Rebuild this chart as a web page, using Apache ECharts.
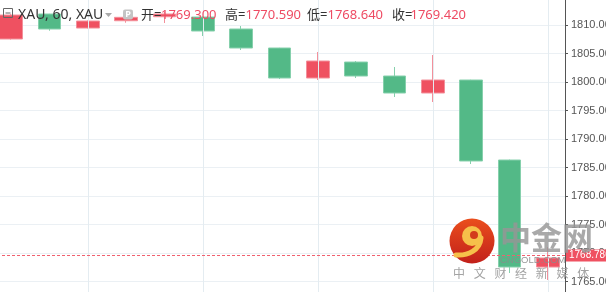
<!DOCTYPE html>
<html>
<head>
<meta charset="utf-8">
<script src="https://cdn.jsdelivr.net/npm/echarts@6/dist/echarts.min.js"></script>
<style>
  html, body { margin: 0; padding: 0; background: #fff; }
  #chart { width: 606px; height: 292px; }
</style>
</head>
<body>
<div id="chart"></div>
<script>
// ---- data (XAU, 60-minute candles) ----
const categories = ['1', '2', '3', '4', '5', '6', '7', '8', '9', '10', '11', '12', '13', '14', '15'];
const openV  = [1807.55, 1811.93, 1809.47, 1810.75, 1811.45, 1811.40, 1809.30, 1805.97, 1800.71, 1803.51, 1801.06, 1798.08, 1800.36, 1786.33, 1767.57];
const closeV = [1811.75, 1809.30, 1810.70, 1811.35, 1811.93, 1808.95, 1805.97, 1800.71, 1803.69, 1801.06, 1798.08, 1800.36, 1786.16, 1767.57, 1769.15];
const lowV   = [1807.45, 1809.00, 1809.40, 1810.40, 1810.35, 1808.07, 1805.62, 1800.53, 1800.36, 1800.71, 1797.38, 1796.50, 1785.63, 1766.52, 1765.30];
const highV  = [1811.95, 1811.95, 1810.80, 1811.40, 1812.28, 1811.50, 1809.82, 1806.00, 1805.27, 1803.69, 1802.64, 1804.74, 1800.40, 1786.40, 1771.08];
const gridColumns = ['3', '6', '9', '12', '15'];
const yTicks = { min: 1760, max: 1815, step: 5 };
const lastPriceLine = 1769.6;
const lastPriceLabel = '1768.780';
const headerSymbol = 'XAU, 60, XAU';
const headerFields = [
  { key: '开=', value: '1769.300' },
  { key: '高=', value: '1770.590' },
  { key: '低=', value: '1768.640' },
  { key: '收=', value: '1769.420' }
];
const watermarkTitle = '中金网';
const watermarkSite = 'CNGOLD.COM';
const watermarkSlogan = ['中', '文', '财', '经', '新', '媒', '体'];

// ---- chart ----
const candleData = categories.map((c, i) => [openV[i], closeV[i], lowV[i], highV[i]]);
const UP = '#ef5161', DOWN = '#53b987';
const FONT = '"Noto Sans", "Noto Sans CJK SC", sans-serif';

const keyX = [141, 225, 307, 392];
const valX = [161, 245.5, 327.5, 410.5];
const headerGraphics = [];
headerFields.forEach((f, i) => {
  headerGraphics.push({ type: 'text', z: 50, style: { x: keyX[i], y: 15, text: f.key, font: '13px ' + FONT, fill: '#333', verticalAlign: 'middle' } });
  headerGraphics.push({ type: 'text', z: 50, style: { x: valX[i], y: 15, text: f.value, font: '13px ' + FONT, fill: '#ee4b63', verticalAlign: 'middle' } });
});

const sloganGraphics = watermarkSlogan.map((ch, i) => ({
  type: 'text', z: 60,
  style: { x: 453 + i * 20.7, y: 273, text: ch, font: '12px "Noto Sans CJK SC"', fill: '#a3a3a3', verticalAlign: 'middle' }
}));

const chart = echarts.init(document.getElementById('chart'), null, { renderer: 'canvas' });
chart.setOption({
  animation: false,
  backgroundColor: '#fff',
  grid: { left: -8, right: 39, top: -3.5, bottom: -18.2, containLabel: false, outerBoundsMode: 'none' },
  xAxis: {
    type: 'category', data: categories, boundaryGap: true,
    axisLine: { show: false }, axisTick: { show: false }, axisLabel: { show: false }, splitLine: { show: false }
  },
  yAxis: {
    type: 'value', position: 'right', offset: -2,
    min: yTicks.min, max: yTicks.max, interval: yTicks.step,
    axisLine: { show: true, lineStyle: { color: '#555', width: 1 } },
    axisTick: { show: true, length: 3, lineStyle: { color: '#555' } },
    axisLabel: { color: '#555', fontSize: 11, margin: 6, fontFamily: 'Liberation Sans, Arial, sans-serif', formatter: v => v.toFixed(3) },
    splitLine: { show: true, lineStyle: { color: '#ebf0f4', width: 1 } }
  },
  series: [
    {
      type: 'line', data: [], z: 1, silent: true,
      markLine: {
        silent: true, symbol: 'none', animation: false,
        label: { show: false },
        lineStyle: { color: '#e4ecf1', type: 'solid', width: 1 },
        data: gridColumns.map(c => ({ xAxis: c }))
      }
    },
    {
      type: 'candlestick', z: 3, barWidth: 23,
      data: candleData,
      itemStyle: {
        color: UP, color0: DOWN,
        borderColor: '#f3909b', borderColor0: '#86d0ac', borderWidth: 1
      },
      markLine: {
        silent: true, symbol: 'none', animation: false,
        lineStyle: { color: '#f0606f', type: [3, 2], width: 1, opacity: 1 },
        label: {
          show: true, position: 'end', distance: -1, formatter: lastPriceLabel,
          color: '#fff', backgroundColor: UP, fontSize: 10, padding: [1, 3, 1, 3],
          fontFamily: 'Liberation Sans, Arial, sans-serif'
        },
        data: [{ yAxis: lastPriceLine }]
      }
    }
  ],
  graphic: [
    // header
    { type: 'rect', z: 50, shape: { x: 3.5, y: 8.5, width: 9, height: 9 }, style: { fill: 'none', stroke: '#666', lineWidth: 1 } },
    { type: 'line', z: 50, shape: { x1: 5.5, y1: 13, x2: 10.5, y2: 13 }, style: { stroke: '#666', lineWidth: 1 } },
    { type: 'text', z: 50, style: { x: 18, y: 15, text: headerSymbol, font: '14px ' + FONT, fill: '#333', verticalAlign: 'middle' } },
    { type: 'polygon', z: 50, shape: { points: [[105, 13], [112, 13], [108.5, 17]] }, style: { fill: '#aaa' } },
    { type: 'rect', z: 50, shape: { x: 123, y: 9.5, width: 10, height: 10, r: 2 }, style: { fill: '#c4c4c4' } },
    { type: 'text', z: 51, style: { x: 128, y: 14.5, text: 'P', font: 'bold 9px ' + FONT, fill: '#fff', align: 'center', verticalAlign: 'middle' } },
    ...headerGraphics,
    // watermark logo
    {
      type: 'circle', z: 60, shape: { cx: 472, cy: 241, r: 22.5 },
      style: { fill: new echarts.graphic.LinearGradient(0, 0, 0, 1, [{ offset: 0, color: '#ea4e1d' }, { offset: 1, color: '#c2201a' }]) }
    },
    { type: 'circle', z: 61, shape: { cx: 472, cy: 236, r: 10 }, style: { fill: '#f6c04a' } },
    { type: 'circle', z: 62, shape: { cx: 474, cy: 235, r: 4 }, style: { fill: '#d33a1c' } },
    { type: 'bezierCurve', z: 61, shape: { x1: 481, y1: 238, cpx1: 480, cpy1: 250, cpx2: 468, cpy2: 256, x2: 456, y2: 255 }, style: { fill: 'none', stroke: '#f6c04a', lineWidth: 5, lineCap: 'round' } },
    { type: 'text', z: 60, style: { x: 500, y: 237, text: watermarkTitle, font: 'bold 31px "Noto Sans CJK SC"', fill: 'rgba(150,150,150,0.82)', verticalAlign: 'middle' } },
    { type: 'text', z: 60, style: { x: 500, y: 260, text: watermarkSite, font: '9.5px "Liberation Sans", Arial, sans-serif', fill: 'rgba(140,140,140,0.9)', verticalAlign: 'middle' } },
    ...sloganGraphics
  ]
});
</script>
</body>
</html>
